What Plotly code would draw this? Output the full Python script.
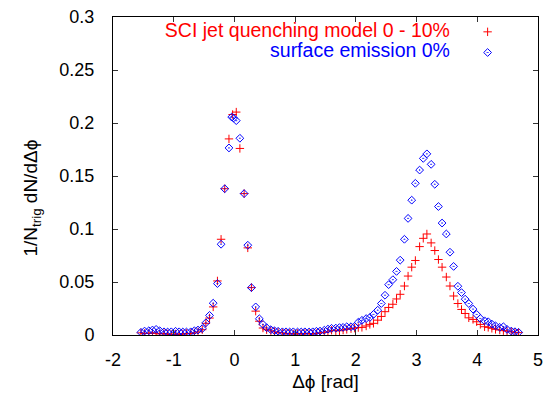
import plotly.graph_objects as go

# Bin centres (rad)
dphi = [-1.54, -1.48, -1.41, -1.35, -1.29, -1.23, -1.16, -1.10, -1.04, -0.97,
        -0.91, -0.85, -0.79, -0.72, -0.66, -0.60, -0.53, -0.47, -0.41, -0.35,
        -0.28, -0.22, -0.16, -0.09, -0.03, 0.03, 0.09, 0.16, 0.22, 0.28,
        0.35, 0.41, 0.47, 0.53, 0.60, 0.66, 0.72, 0.79, 0.85, 0.91,
        0.97, 1.04, 1.10, 1.16, 1.23, 1.29, 1.35, 1.41, 1.48, 1.54,
        1.60, 1.67, 1.73, 1.79, 1.85, 1.92, 1.98, 2.04, 2.10, 2.17,
        2.23, 2.29, 2.36, 2.42, 2.48, 2.54, 2.61, 2.67, 2.73, 2.80,
        2.86, 2.92, 2.98, 3.05, 3.11, 3.17, 3.24, 3.30, 3.36, 3.42,
        3.49, 3.55, 3.61, 3.68, 3.74, 3.80, 3.86, 3.93, 3.99, 4.05,
        4.12, 4.18, 4.24, 4.30, 4.37, 4.43, 4.49, 4.56, 4.62, 4.68]

# SCI jet quenching model 0 - 10%
sci = [0.002, 0.0015, 0.0015, 0.002, 0.0015, 0.001, 0.0015, 0.001, 0.0005, 0.001,
       0.0005, 0.001, 0.0015, 0.0015, 0.002, 0.003, 0.005, 0.011, 0.016, 0.0265,
       0.051, 0.0903, 0.138, 0.185, 0.208, 0.2103, 0.176, 0.1334, 0.0822, 0.0447,
       0.0225, 0.013, 0.0066, 0.005, 0.004, 0.003, 0.0025, 0.002, 0.0015, 0.0015,
       0.001, 0.0015, 0.001, 0.0015, 0.0015, 0.001, 0.0015, 0.002, 0.0025, 0.003,
       0.0045, 0.004, 0.004, 0.0047, 0.0053, 0.006, 0.0065, 0.007, 0.0072, 0.0085,
       0.010, 0.011, 0.014, 0.0175, 0.022, 0.026, 0.029, 0.034, 0.0384, 0.0462,
       0.0556, 0.064, 0.0703, 0.0834, 0.0912, 0.0953, 0.0869, 0.0797, 0.0712, 0.064,
       0.0547, 0.0462, 0.0368, 0.0297, 0.0241, 0.0203, 0.0162, 0.0147, 0.0125, 0.010,
       0.0078, 0.0072, 0.0063, 0.0053, 0.0047, 0.0041, 0.0037, 0.0031, 0.0025, 0.0022]

# surface emission 0%
dphi_surf = [-1.54, -1.48, -1.41, -1.35, -1.29, -1.23, -1.16, -1.10, -1.04, -0.97,
             -0.91, -0.85, -0.79, -0.72, -0.66, -0.60, -0.53, -0.47, -0.41, -0.35,
             -0.28, -0.22, -0.16, -0.09, -0.045, -0.015, 0.03, 0.09, 0.16, 0.22, 0.28,
             0.35, 0.41, 0.47, 0.53, 0.60, 0.66, 0.72, 0.79, 0.85, 0.91,
             0.97, 1.04, 1.10, 1.16, 1.23, 1.29, 1.35, 1.41, 1.48, 1.54,
             1.60, 1.67, 1.73, 1.79, 1.85, 1.92, 1.98, 2.04, 2.10, 2.17,
             2.23, 2.29, 2.36, 2.42, 2.48, 2.54, 2.61, 2.67, 2.73, 2.80,
             2.86, 2.92, 2.98, 3.05, 3.11, 3.17, 3.24, 3.30, 3.36, 3.42,
             3.49, 3.55, 3.61, 3.68, 3.74, 3.80, 3.86, 3.93, 3.99, 4.05,
             4.12, 4.18, 4.24, 4.30, 4.37, 4.43, 4.49, 4.56, 4.62, 4.68]
surf = [0.0025, 0.0037, 0.004, 0.0047, 0.0053, 0.004, 0.003, 0.0028, 0.003, 0.0035,
        0.003, 0.0028, 0.0028, 0.003, 0.004, 0.0047, 0.006, 0.0115, 0.0185, 0.030,
        0.0485, 0.0856, 0.138, 0.1765, 0.2056, 0.2047, 0.2022, 0.1856, 0.1334, 0.0847, 0.0447,
        0.0265, 0.0153, 0.010, 0.0069, 0.005, 0.004, 0.0035, 0.003, 0.003, 0.0028,
        0.003, 0.0028, 0.0028, 0.003, 0.0028, 0.003, 0.0035, 0.0037, 0.0045, 0.0055,
        0.0063, 0.0065, 0.007, 0.0072, 0.0078, 0.0078, 0.008, 0.012, 0.0138, 0.0155,
        0.0165, 0.0194, 0.0234, 0.0297, 0.0375, 0.0475, 0.0522, 0.060, 0.0706, 0.0903,
        0.110, 0.1272, 0.1431, 0.1556, 0.1666, 0.1709, 0.161, 0.1422, 0.1212, 0.1056,
        0.0953, 0.0781, 0.0647, 0.046, 0.040, 0.0338, 0.0297, 0.0244, 0.0194, 0.0156,
        0.0134, 0.0125, 0.0103, 0.0087, 0.0072, 0.0078, 0.0053, 0.0037, 0.0031, 0.0025]

x_ticks = [-2, -1, 0, 1, 2, 3, 4, 5]
x_tick_text = ["-2", "-1", "0", "1", "2", "3", "4", "5"]
y_ticks = [0, 0.05, 0.1, 0.15, 0.2, 0.25, 0.3]
y_tick_text = ["0", "0.05", "0.1", "0.15", "0.2", "0.25", "0.3"]
labels = ["SCI jet quenching model 0 - 10%", "surface emission 0%"]
red = "#ff0000"
blue = "#0000ff"
FONT = "Liberation Sans, Arial, sans-serif"
FS_TICK = 18
FS_LEG = 19.5
FS_TITLE = 19

red_marker = dict(symbol="cross-thin-open", size=6, color=red, line=dict(width=1, color=red))
blue_marker = dict(symbol="diamond-open-dot", size=6, color=blue, line=dict(width=1, color=blue))

fig = go.Figure()
fig.add_trace(go.Scatter(x=dphi, y=sci, mode="markers", marker=red_marker, showlegend=False))
fig.add_trace(go.Scatter(x=dphi_surf, y=surf, mode="markers", marker=blue_marker, showlegend=False))

# legend: text on the left, key symbol on the right (positions in axis units)
key_x = 4.17
text_x = 3.55
key_y = [0.286, 0.2665]
for lab, col, mk, ky in zip(labels, [red, blue], [red_marker, blue_marker], key_y):
    fig.add_trace(go.Scatter(x=[key_x], y=[ky], mode="markers",
                             marker=mk, showlegend=False, hoverinfo="skip"))
    fig.add_trace(go.Scatter(x=[text_x], y=[ky], mode="text",
                             text=[lab], textposition="middle left",
                             textfont=dict(family=FONT, size=FS_LEG, color=col),
                             showlegend=False, hoverinfo="skip"))

fig.add_annotation(x=-0.19, y=0.43, xref="paper", yref="paper",
                   text="1/N<sub>trig</sub> dN/dΔϕ", textangle=-90, showarrow=False,
                   xanchor="center", yanchor="middle", font=dict(family=FONT, size=FS_TITLE, color="black"))

axis_common = dict(showgrid=False, zeroline=False, showline=True, linecolor="black", linewidth=1,
                   mirror="allticks", ticks="inside", ticklen=5, tickwidth=1, tickcolor="#333",
                   tickfont=dict(family=FONT, size=FS_TICK, color="black"))

fig.update_layout(
    width=550, height=396,
    margin=dict(l=113, r=7, t=15, b=61),
    paper_bgcolor="white", plot_bgcolor="white",
    font=dict(family=FONT, size=FS_TICK, color="black"),
    xaxis=dict(range=[-2, 5], tickvals=x_ticks, ticktext=x_tick_text, ticklabelstandoff=8,
               title=dict(text="Δϕ [rad]", font=dict(family=FONT, size=FS_TITLE), standoff=6),
               **axis_common),
    yaxis=dict(range=[0, 0.3], tickvals=y_ticks, ticktext=y_tick_text, ticklabelstandoff=14,
               **axis_common),
)

fig.write_html("out.html")
